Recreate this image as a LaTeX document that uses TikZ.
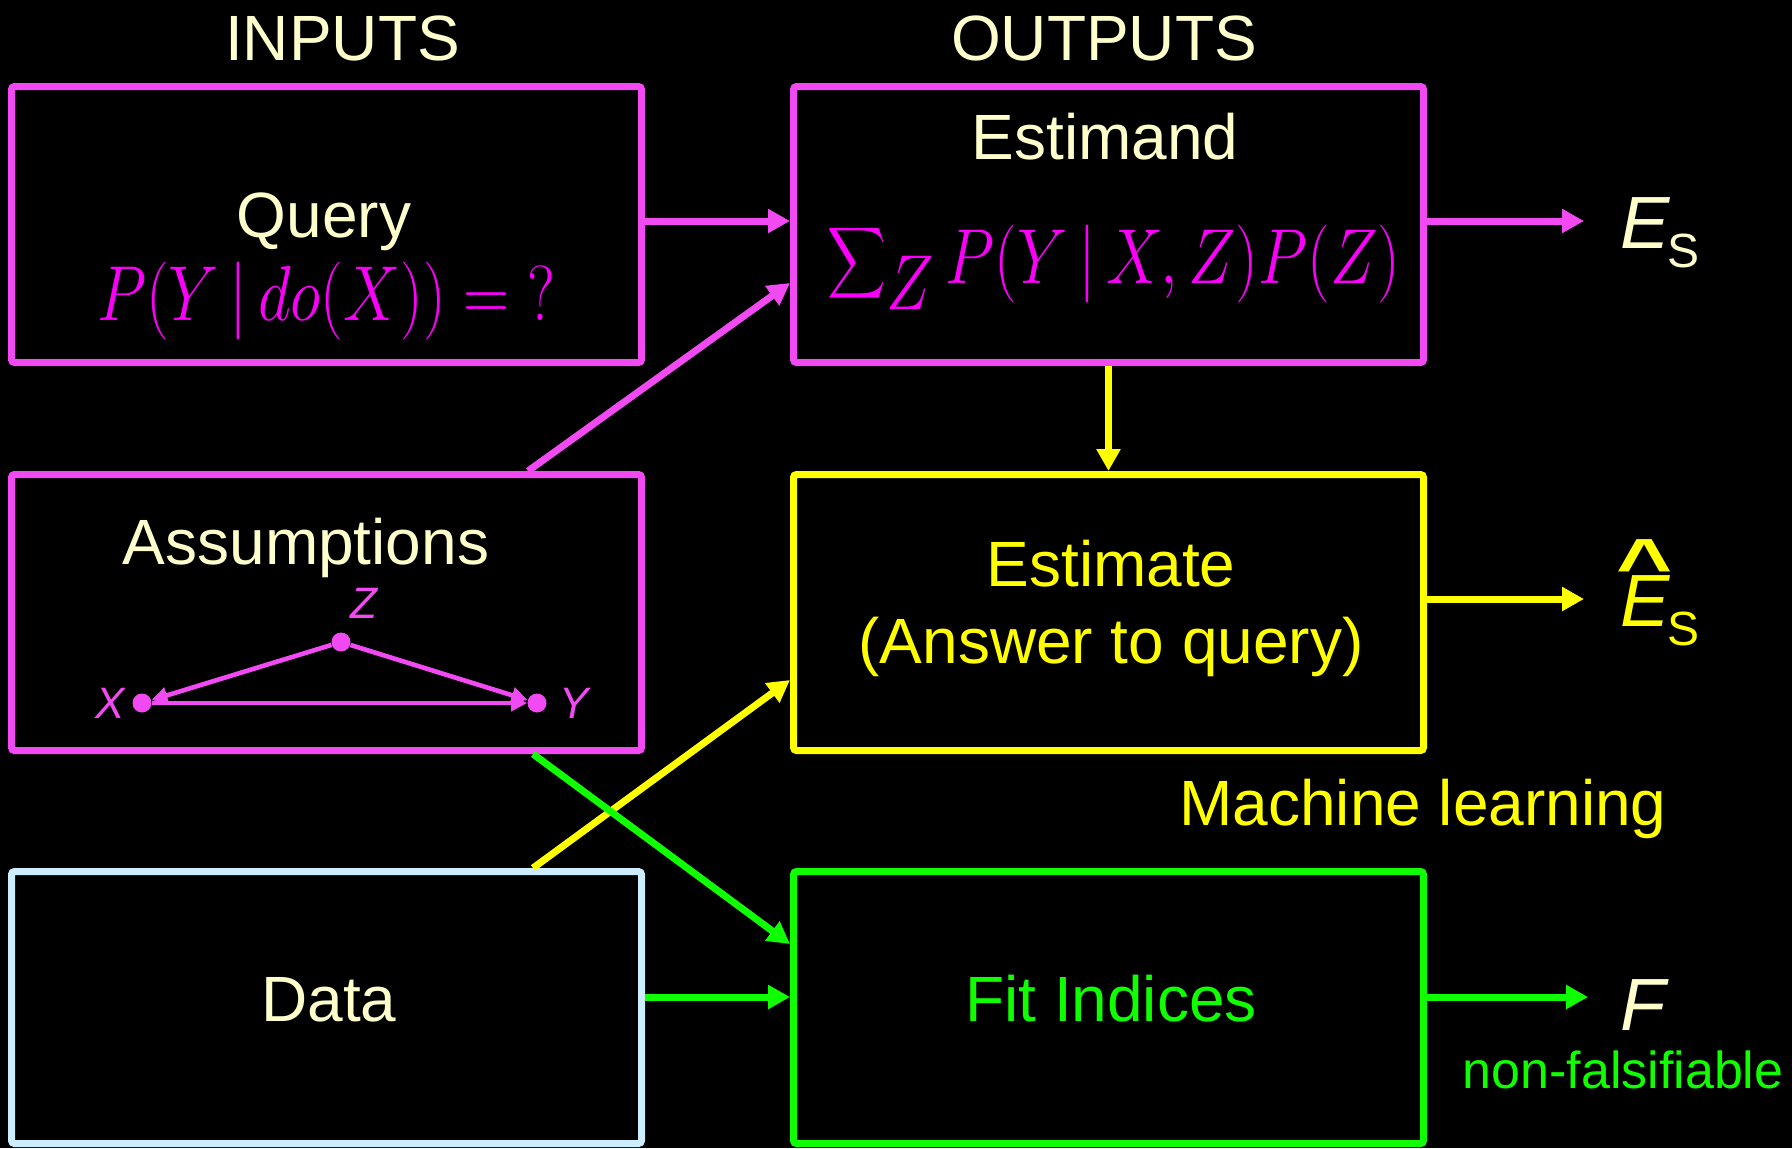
\RequirePackage{fix-cm}
\documentclass[tikz,border=0pt]{standalone}
\usepackage{amsmath}
\usepackage{fontspec}
\setmainfont{Liberation Sans}
\usetikzlibrary{arrows.meta,positioning}

\definecolor{boxpink}{RGB}{242,74,242}
\definecolor{eqpink}{RGB}{250,0,250}
\definecolor{cream}{RGB}{255,255,204}
\definecolor{hiyellow}{RGB}{255,255,0}
\definecolor{higreen}{RGB}{16,255,0}
\definecolor{paleblue}{RGB}{204,236,255}

\begin{document}
\begin{tikzpicture}[
  x=0.5pt,y=-0.5pt,
  node distance=52.5pt and 72.5pt,
  panel/.style={draw,line width=3.5pt,rounded corners=1.5pt,
                minimum width=315pt,minimum height=138pt,inner sep=0pt},
  big/.style={font=\fontsize{32}{38}\selectfont,inner sep=0pt,anchor=base},
  eq/.style={font=\fontsize{39}{44}\selectfont,text=eqpink,inner sep=0pt,anchor=base},
  flow/.style={-{Triangle[length=11pt,width=11.5pt]},line width=3.5pt},
  dagdot/.style={circle,fill=boxpink,inner sep=0pt,minimum size=9.5pt},
  dagedge/.style={-{Triangle[length=8pt,width=8pt]},line width=2.3pt,draw=boxpink},
  daglbl/.style={font=\fontsize{22}{26}\selectfont\itshape,text=boxpink,inner sep=0pt}
]
\useasboundingbox (0,0) rectangle (1792,1148);
\fill[black] (0,0) rectangle (1792,1148);

% boxes
\node[panel,draw=boxpink] (query) at (326.5,224.5) {};
\node[panel,draw=boxpink,right=of query] (estimand) {};
\node[panel,draw=boxpink,below=of query] (assume) {};
\node[panel,draw=hiyellow,right=of assume] (estimate) {};
\node[panel,draw=paleblue,minimum height=136pt,below=57pt of assume] (data) {};
\node[panel,draw=higreen,minimum height=136pt,right=of data] (fit) {};

% headings and box texts
\node[big,text=cream] (inputs) at (342.5,60) {INPUTS};
\node[big,text=cream] (outputs) at (1104,60) {OUTPUTS};
\node[big,text=cream] (querylbl) at (324,237) {Query};
\node[eq] (queryeq) at (326,320) {\scalebox{0.82}[1]{$P(Y\,|\,do(X))={?}$}};
\node[big,text=cream] (estimandlbl) at (1105,159) {Estimand};
\node[eq] (estimandeq) at (1114,283)
  {\scalebox{0.82}[1]{$\displaystyle\sum\nolimits_{\textstyle Z} P(Y\,|\,X,Z)P(Z)$}};
\node[big,text=cream] (assumelbl) at (306,564) {Assumptions};
\node[big,text=hiyellow] (estimatelbl) at (1111,586) {Estimate};
\node[big,text=hiyellow] (estimatesub) at (1111,663) {(Answer to query)};
\node[big,text=cream] (datalbl) at (329,1021) {Data};
\node[big,text=higreen] (fitlbl) at (1111,1021) {Fit Indices};
\node[big,text=hiyellow] (mllbl) at (1423,825) {Machine learning};
\node[font=\fontsize{26}{30}\selectfont,text=higreen,inner sep=0pt,anchor=base] (nonfals) at (1623,1088) {non-falsifiable};

% small graph
\node[dagdot] (z) at (341,642) {};
\node[dagdot] (x) at (142,703) {};
\node[dagdot] (y) at (537,703) {};
\node[daglbl] (zlbl) at (364,603) {Z};
\node[daglbl] (xlbl) at (110,703) {X};
\node[daglbl] (ylbl) at (574,703) {Y};
\draw[dagedge] (z) -- (x);
\draw[dagedge] (z) -- (y);
\draw[dagedge] (x) -- (y);

% results
\node[inner sep=0pt,anchor=base west,text=cream] (es) at (1620,248)
  {\fontsize{37}{40}\selectfont\itshape E\kern-1pt\raisebox{-9.5pt}{\fontsize{24}{28}\selectfont\upshape S}};
\node[inner sep=0pt,anchor=base west,text=hiyellow] (eshat) at (1620,626)
  {\fontsize{37}{40}\selectfont\itshape\rlap{\kern-2pt\raisebox{18pt}{\scalebox{1.3}[1]{\upshape\bfseries\textasciicircum}}}E\kern-1pt\raisebox{-9.5pt}{\fontsize{24}{28}\selectfont\upshape S}};
\node[inner sep=0pt,anchor=base west,text=cream] (f) at (1620,1030)
  {\fontsize{37}{40}\selectfont\itshape F};
\coordinate (esend) at (1584,221);
\coordinate (eshatend) at (1584,599);
\coordinate (fend) at (1588,997);

% connectors
\draw[flow,draw=boxpink] ([yshift=1.75pt]query.east) -- ([yshift=1.75pt]estimand.west);
\draw[flow,draw=boxpink] ([yshift=1.75pt]estimand.east) -- (esend);
\draw[flow,draw=boxpink] ([xshift=-58.5pt]assume.north east) -- ([yshift=-29.25pt]estimand.west);
\draw[flow,draw=hiyellow] (estimand.south) -- (estimate.north);
\draw[flow,draw=hiyellow] ([yshift=6.75pt]estimate.east) -- (eshatend);
\draw[flow,draw=hiyellow] ([xshift=-56pt]data.north east) -- ([yshift=-33.75pt]estimate.west);
\draw[flow,draw=higreen] ([xshift=-56pt]assume.south east) -- ([yshift=31.75pt]fit.west);
\draw[flow,draw=higreen] ([yshift=5.25pt]data.east) -- ([yshift=5.25pt]fit.west);
\draw[flow,draw=higreen] ([yshift=5.25pt]fit.east) -- (fend);
\end{tikzpicture}
\end{document}
